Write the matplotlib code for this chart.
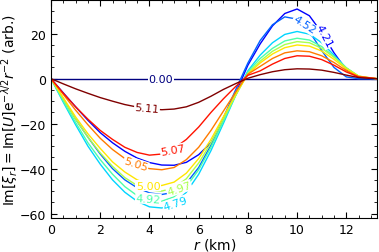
import matplotlib.pyplot as plt
import numpy as np
from matplotlib.ticker import AutoMinorLocator

# radius grid (km)
r = [0, 0.5, 1.0, 1.5, 2.0, 2.5, 3.0, 3.5, 4.0, 4.5, 5.0, 5.5, 6.0, 6.5,
     7.0, 7.5, 8.0, 8.5, 9.0, 9.5, 10.0, 10.5, 11.0, 11.5, 12.0, 12.5,
     13.0, 13.25]

labels = ['0.00', '4.21', '4.52', '4.79', '4.92', '4.97', '5.00', '5.05',
          '5.07', '5.11']

xi_000 = [0] * 28
xi_421 = [0, -6.3, -12.5, -18.5, -24, -28.5, -32.3, -35.3, -37.3, -38.4,
          -38.5, -37.2, -33.8, -28.5, -18.5, -6.5, 6, 15.5, 23.5, 29, 31,
          28, 20.5, 11.5, 4, 0.5, 0, 0]
xi_452 = [0, -9, -18, -26, -33.5, -40, -45, -48.5, -50.8, -51.5, -50.5,
          -46.5, -39.5, -29.5, -17.5, -5, 7, 17, 24, 27.5, 26.5, 21, 12.5, 5,
          0.8, 0, 0, 0]
xi_479 = [0, -10.5, -20.5, -30, -38, -45, -50.5, -54.5, -57, -57.5, -55.5,
          -50.5, -42.5, -32, -20, -7.5, 3.5, 10.5, 16, 19.7, 21, 19.8, 16,
          10.5, 4.8, 1, 0.1, 0]
xi_492 = [0, -10, -19.5, -28.5, -36, -42.5, -48, -52, -54, -54.5, -52.5,
          -48, -40.5, -30.5, -19, -7.5, 3, 9, 13.5, 16.8, 18, 17.2, 14.3,
          9.8, 4.8, 1.1, 0.2, 0]
xi_497 = [0, -9, -18, -26, -33, -39, -44, -47.5, -49.5, -50, -48.5, -44.5,
          -37.5, -28.5, -18, -7.5, 2.3, 7.8, 12.2, 15.2, 16.5, 16, 13.5, 9.5,
          4.8, 1.2, 0.3, 0]
xi_500 = [0, -8.5, -17, -24.5, -31, -37, -41.5, -45, -47, -47.5, -46, -42,
          -35.5, -27, -17, -7, 2, 7, 11, 13.8, 15, 14.5, 12.3, 8.6, 4.3, 1.1,
          0.3, 0]
xi_505 = [0, -7, -14, -20.5, -26.5, -31.5, -35.5, -38.3, -40, -40.5, -39.5,
          -36, -30.5, -23, -14.5, -6, 2, 5.5, 9, 11.5, 12.4, 12, 10.2, 7.2,
          3.6, 0.9, 0.4, 0]
xi_507 = [0, -6.5, -12.5, -18, -23, -27, -30.5, -32.8, -34, -33.5, -31, -27,
          -21.5, -15, -9, -3.5, 1.5, 3.5, 6.5, 9, 10.2, 10, 8.5, 6, 3, 0.8,
          0.3, 0]
xi_511 = [0, -2.3, -4.5, -6.5, -8.4, -10, -11.5, -12.6, -13.4, -13.8, -13.5,
          -12.5, -10.5, -7.8, -4.8, -2.2, 0.2, 1.8, 3.1, 4, 4.4, 4.3, 3.8,
          2.8, 1.6, 0.5, 0.1, 0]

curves = [xi_000, xi_421, xi_452, xi_479, xi_492, xi_497, xi_500, xi_505,
          xi_507, xi_511]

# where each curve label sits: (r, value, rotation)
label_pos = [(4.47, 0, 0), (11.1, 19, -62), (10.3, 24.0, -33),
             (5.05, -55.5, 18), (3.95, -53.3, -4), (5.2, -48.8, 18),
             (3.95, -47.6, 0), (3.45, -38.0, -18), (4.95, -31.8, 10),
             (3.9, -13.1, -5)]

colors = plt.cm.jet(np.linspace(0, 1, len(curves)))

fig = plt.figure(figsize=(3.79, 2.53), dpi=100)
ax = fig.add_axes([0.1346, 0.134, 0.861, 0.862])

for y, c in zip(curves, colors):
    ax.plot(r, y, color=c, lw=1.0)

for (x, y, rot), lab, c in zip(label_pos, labels, colors):
    ax.text(x, y, lab, color=c, fontsize=8, rotation=rot,
            ha='center', va='center', rotation_mode='anchor',
            bbox=dict(facecolor='white', edgecolor='none', pad=0.5))

ax.set_xlim(0, 13.26)
ax.set_ylim(-62, 35)
ax.set_xticks([0, 2, 4, 6, 8, 10, 12])
ax.set_yticks([-60, -40, -20, 0, 20])
ax.xaxis.set_minor_locator(AutoMinorLocator(4))
ax.yaxis.set_minor_locator(AutoMinorLocator(4))
ax.tick_params(which='both', direction='in', top=True, right=True,
               labelsize=9)
ax.tick_params(which='major', length=4)
ax.tick_params(which='minor', length=2)

ax.set_xlabel(r'$r$ (km)', fontsize=10, labelpad=0)
ax.set_ylabel(r'$\mathrm{Im}[\xi_r] = \mathrm{Im}[U]\mathrm{e}^{-\lambda/2}r^{-2}$ (arb.)',
              fontsize=10, labelpad=0)

plt.savefig('out.png', dpi=100)
